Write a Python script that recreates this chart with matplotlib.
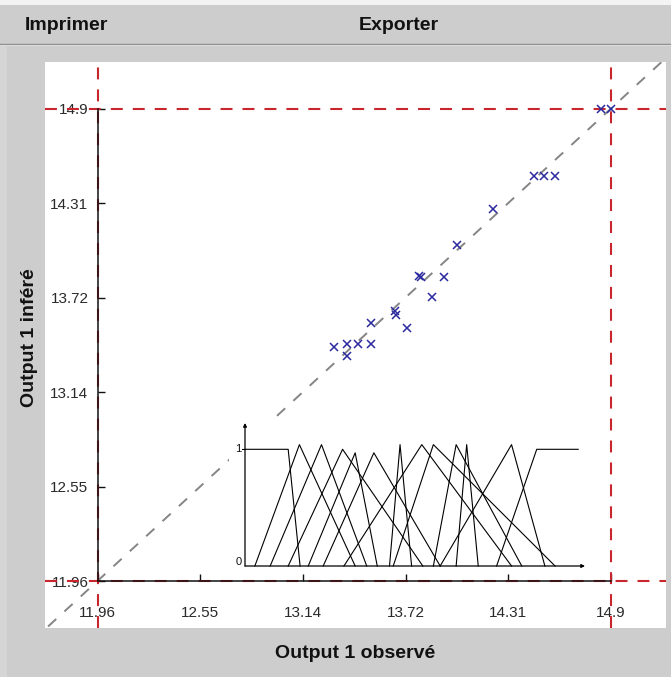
import matplotlib
matplotlib.use('Agg')
import matplotlib.pyplot as plt
from matplotlib.patches import Rectangle
from matplotlib.lines import Line2D

plt.rcParams['font.family'] = ['Liberation Sans', 'DejaVu Sans']
plt.rcParams['lines.scale_dashes'] = False

# ---------------- data ----------------
observed = [13.316, 13.387, 13.387, 13.453, 13.524, 13.524, 13.663, 13.667,
            13.734, 13.800, 13.810, 13.877, 13.946, 14.017, 14.226, 14.459,
            14.516, 14.579, 14.843, 14.900]
inferred = [13.418, 13.435, 13.362, 13.435, 13.435, 13.564, 13.642, 13.615,
            13.536, 13.860, 13.850, 13.729, 13.850, 14.051, 14.273, 14.480,
            14.480, 14.480, 14.897, 14.897]

tick_values = [11.96, 12.548, 13.136, 13.724, 14.312, 14.9]
tick_labels = ['11.96', '12.55', '13.14', '13.72', '14.31', '14.9']
range_min, range_max = 11.96, 14.9

# membership functions of the inset (universe 0..100)
mf_left_u = [0, 12.7, 16.2]
mf_left_mu = [1, 1, 0]
tri_left = [2.9, 7.4, 12.7, 18.6, 23.0, 42.5, 29.1, 43.6, 55.4, 62.1, 57.4]
tri_peak = [16.0, 22.5, 28.7, 32.4, 37.9, 45.6, 52.0, 55.4, 62.1, 65.2, 78.4]
tri_right = [32.4, 35.8, 52.3, 38.9, 57.4, 49.0, 78.4, 91.2, 81.4, 68.6, 88.2]
tri_height = [1.04, 1.04, 1.0, 0.97, 0.97, 1.04, 1.04, 1.04, 1.04, 1.04, 1.04]
mf_right_u = [74.0, 85.8, 98.0]
mf_right_mu = [0, 1, 1]

toolbar_items = ['Imprimer', 'Exporter']
xlabel = 'Output 1 observé'
ylabel = 'Output 1 inféré'

# ---------------- figure ----------------
W, H = 671, 677
fig = plt.figure(figsize=(W / 100, H / 100), dpi=100, facecolor='#cdcdcd')


def fy(py):
    return 1 - py / H


# toolbar decoration
fig.patches.append(Rectangle((0, fy(5)), 1, 5 / H, transform=fig.transFigure,
                             facecolor='#f3f3f3', edgecolor='none', zorder=0))
fig.lines.append(Line2D([0, 1], [fy(43.5), fy(43.5)], transform=fig.transFigure,
                        color='#8c8c8c', lw=1.0))
fig.lines.append(Line2D([0, 1], [fy(45), fy(45)], transform=fig.transFigure,
                        color='#dcdcdc', lw=0.8))
fig.patches.append(Rectangle((0, 0), 7 / W, fy(46), transform=fig.transFigure,
                             facecolor='#d5d5d5', edgecolor='none', zorder=0))
fig.text(66 / W, fy(26), toolbar_items[0], ha='center', va='center',
         fontsize=14, fontweight='bold', color='#111111')
fig.text(399 / W, fy(26), toolbar_items[1], ha='center', va='center',
         fontsize=14, fontweight='bold', color='#111111')

# main axes over the white area
ax = fig.add_axes([45 / W, 1 - 628 / H, 621 / W, 566 / H])
ax.set_facecolor('white')
pxu_x = (611 - 97.5) / (range_max - range_min)
pxu_y = (581 - 108.5) / (range_max - range_min)
ax.set_xlim(range_min - (97.5 - 45) / pxu_x, range_max + (666 - 611) / pxu_x)
ax.set_ylim(range_min - (628 - 581) / pxu_y, range_max + (108.5 - 62) / pxu_y)

for s in ['top', 'right']:
    ax.spines[s].set_visible(False)
ax.spines['left'].set_position(('data', range_min))
ax.spines['bottom'].set_position(('data', range_min))
ax.spines['left'].set_bounds(range_min, range_max)
ax.spines['bottom'].set_bounds(range_min, range_max)
for s in ['left', 'bottom']:
    ax.spines[s].set_linewidth(1.1)
    ax.spines[s].set_color('#111111')

ax.set_xticks(tick_values)
ax.set_xticklabels(tick_labels)
ax.set_yticks(tick_values)
ax.set_yticklabels(tick_labels)
ax.tick_params(direction='in', length=5, width=1, color='#111111',
               labelsize=11, labelcolor='#2a2a2a')
ax.tick_params(axis='y', pad=6.5)
ax.tick_params(axis='x', pad=18)

red = '#c8262c'
dash_red = (0, (8.6, 7.2))
for v in [range_min, range_max]:
    ax.axhline(v, color=red, lw=1.5, linestyle=dash_red, zorder=2)
    ax.axvline(v, color=red, lw=1.5, linestyle=dash_red, zorder=2)

lo, hi = ax.get_xlim()
ax.plot([lo - 1, hi + 1], [lo - 1, hi + 1], color='#858585', lw=1.4,
        linestyle=(0, (8, 8)), zorder=1.8)

ax.plot(observed, inferred, 'x', color='#2a2a9e', ms=5.5, mew=1.1, zorder=3)

ax.set_xlabel(xlabel, fontsize=14, fontweight='bold', color='#111111', va='center')
ax.set_ylabel(ylabel, fontsize=14, fontweight='bold', color='#111111', va='center')
ax.xaxis.set_label_coords((355 - 45) / 621, (628 - 653) / 566)
ax.yaxis.set_label_coords((30 - 45) / 621, (628 - 338) / 566)

# inset with membership functions
iax = fig.add_axes([229 / W, 1 - 572 / H, (595 - 229) / W, (572 - 418) / H])
iax.set_facecolor('white')
for s in iax.spines.values():
    s.set_visible(False)
iax.set_xticks([])
iax.set_yticks([])
pu = 340 / 100
py1 = 566 - 449.3
iax.set_xlim((229 - 245) / pu, 100 + (595 - 585) / pu)
iax.set_ylim(-(572 - 566) / py1, (566 - 418) / py1)

iax.annotate('', xy=(0, (566 - 423) / py1), xytext=(0, 0),
             arrowprops=dict(arrowstyle='-|>', lw=0.9, color='k',
                             mutation_scale=5, shrinkA=0, shrinkB=0))
iax.annotate('', xy=(100, 0), xytext=(0, 0),
             arrowprops=dict(arrowstyle='-|>', lw=0.9, color='k',
                             mutation_scale=5, shrinkA=0, shrinkB=0))
iax.plot([-0.8, 0], [1, 1], color='k', lw=0.8)
iax.text(-1.0, 1.0, '1', ha='right', va='center', fontsize=8, color='#111111')
iax.text(-1.0, 0.03, '0', ha='right', va='center', fontsize=8, color='#111111')

lwm = 0.8
iax.plot(mf_left_u, mf_left_mu, color='k', lw=lwm)
for l, p, r, h in zip(tri_left, tri_peak, tri_right, tri_height):
    iax.plot([l, p, r], [0, h, 0], color='k', lw=lwm)
iax.plot(mf_right_u, mf_right_mu, color='k', lw=lwm)

fig.savefig('out.png', dpi=100, facecolor=fig.get_facecolor())
